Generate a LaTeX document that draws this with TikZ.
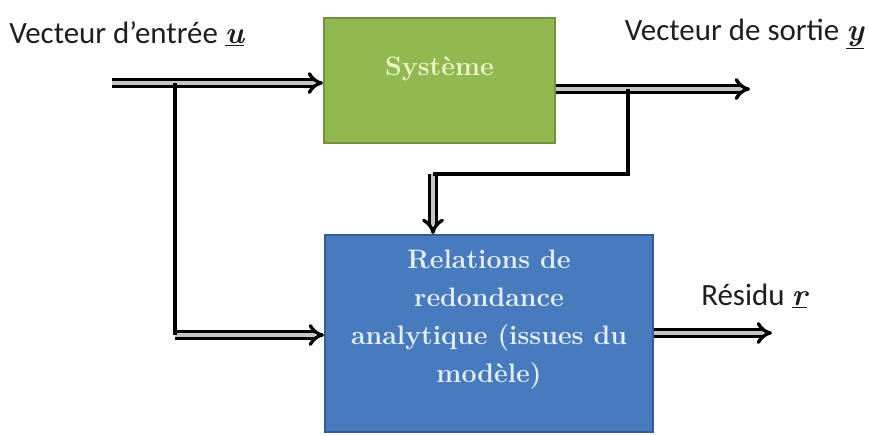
\documentclass[tikz,border=0pt]{standalone}
\usepackage{fontspec}
\usepackage{tikz}
\usetikzlibrary{arrows.meta,positioning}
\newfontfamily\labelfont{Carlito}
\definecolor{sysgreen}{RGB}{146,184,80}
\definecolor{sysgreenedge}{RGB}{116,146,62}
\definecolor{sysgreentext}{RGB}{236,245,200}
\definecolor{rrablue}{RGB}{72,122,190}
\definecolor{rrablueedge}{RGB}{52,92,152}
\definecolor{rrabluetext}{RGB}{230,240,252}
\definecolor{labelgray}{RGB}{30,30,30}
\newcommand{\uvec}[1]{\underline{{\rmfamily\bfseries\itshape #1}}}

\begin{document}
\begin{tikzpicture}[
x=0.025cm, y=-0.025cm,
sysbox/.style={draw=sysgreenedge, line width=1.4pt, fill=sysgreen, minimum width=5.775cm, minimum height=3.125cm, inner sep=0pt, align=center, text=sysgreentext, font=\bfseries\fontsize{19}{24}\selectfont, text depth=21pt},
rrabox/.style={draw=rrablueedge, line width=1.4pt, fill=rrablue, minimum width=8.2cm, minimum height=4.925cm, inner sep=0pt, align=center, text=rrabluetext, font=\bfseries\fontsize{19}{27}\selectfont, text depth=24pt},
lbl/.style={font=\labelfont\fontsize{22}{26}\selectfont, text=labelgray, inner sep=0pt},
dblarrow/.style={draw=black, line width=2.4pt, double=gray!45, double distance=2.6pt, -{Implies}},
branch/.style={draw=black, line width=2.8pt}
]
\useasboundingbox (0,0) rectangle (869,435);
\node[sysbox] (sys) at (439.5,80.5) {Système};
\node[rrabox] (rra) at (489,333.5) {Relations de\\redondance\\analytique (issues du\\modèle)};
\node[lbl, anchor=west] (ulab) at (9,34) {Vecteur d’entrée \uvec{u}};
\node[lbl, anchor=east] (ylab) at (864,34) {Vecteur de sortie \uvec{y}};
\node[lbl, anchor=west] (rlab) at (701,296) {Résidu \uvec{r}};
% branch points
\coordinate (uin) at (112,83);
\coordinate (ubr) at (175,83);
\coordinate (uturn) at (175,335);
\coordinate (yend) at (750,89);
\coordinate (ybr) at (628,89);
\coordinate (ycorner) at (628,174);
\coordinate (ydown) at (433,174);
\coordinate (rend) at (772,333);
\draw[dblarrow] (uin) -- (uin -| sys.west);
\draw[dblarrow] (uturn) -- (uturn -| rra.west);
\draw[dblarrow] (sys.east |- yend) -- (yend);
\draw[dblarrow] (ydown) -- (ydown |- rra.north);
\draw[dblarrow] (rra.east |- rend) -- (rend);
\draw[branch] (ubr) -- (uturn);
\draw[branch] (ybr) -- (ycorner) -- (ydown);
\end{tikzpicture}
\end{document}
